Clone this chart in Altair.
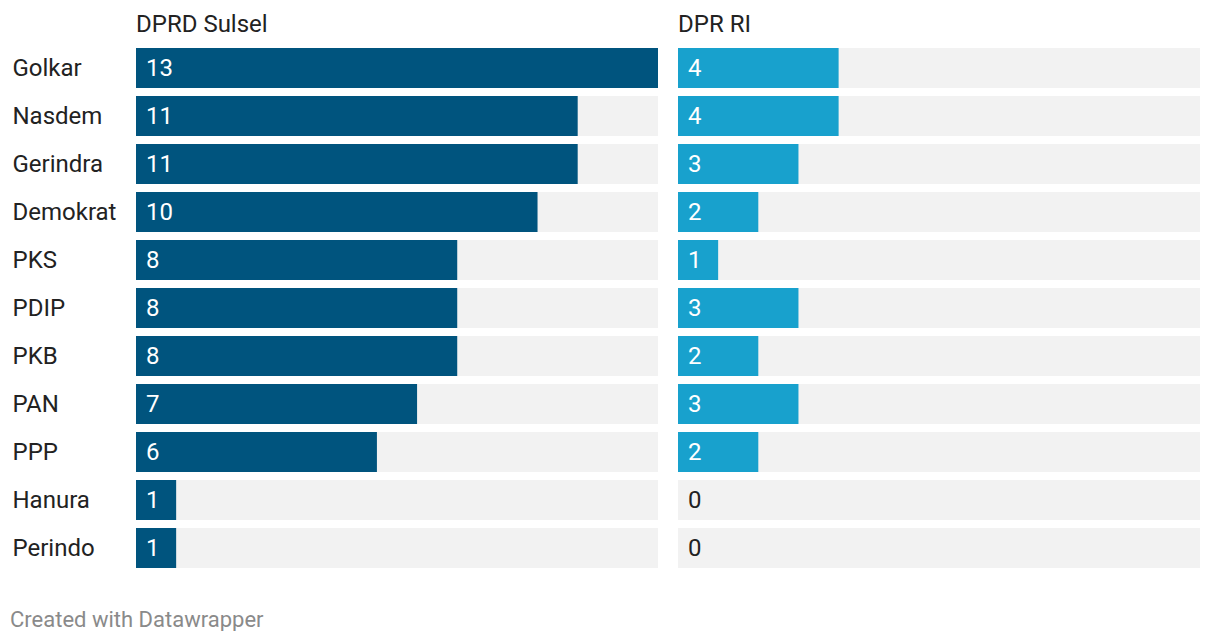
import altair as alt
import pandas as pd

parties = ["Golkar", "Nasdem", "Gerindra", "Demokrat", "PKS", "PDIP", "PKB", "PAN", "PPP", "Hanura", "Perindo"]
dprd_sulsel = [13, 11, 11, 10, 8, 8, 8, 7, 6, 1, 1]
dpr_ri = [4, 4, 3, 2, 1, 3, 2, 3, 2, 0, 0]
titles = ["DPRD Sulsel", "DPR RI"]
colors = ["#00547e", "#18a1cd"]
max_val = 13

FONT = "Roboto"
FS = 24

def panel(values, title, color, show_axis):
    df = pd.DataFrame({"party": parties, "value": values, "full": [max_val] * len(parties)})
    ysc = alt.Scale(paddingInner=1/6, paddingOuter=0)
    xsc = alt.Scale(domain=[0, max_val], nice=False, zero=True)
    if show_axis:
        yaxis = alt.Axis(title=None, domain=False, ticks=False, grid=False,
                         labelAlign="left", labelPadding=124, minExtent=128, maxExtent=128,
                         labelOffset=1,
                         labelFont=FONT, labelFontSize=FS, labelColor="#222222")
    else:
        yaxis = None
    base = alt.Chart(df)
    bg = base.mark_bar(color="#f2f2f2", cornerRadius=0).encode(
        y=alt.Y("party:N", sort=parties, scale=ysc, axis=yaxis),
        x=alt.X("full:Q", scale=xsc, axis=None),
    )
    bars = base.mark_bar(color=color).encode(
        y=alt.Y("party:N", sort=parties),
        x=alt.X("value:Q"),
    )
    labels = base.mark_text(align="left", baseline="middle", dx=10, dy=1, font=FONT, fontSize=FS).encode(
        y=alt.Y("party:N", sort=parties),
        x=alt.datum(0),
        text="value:Q",
        color=alt.condition("datum.value > 0", alt.value("#ffffff"), alt.value("#222222")),
    )
    return alt.layer(bg, bars, labels).properties(
        width=522, height=520,
        title=alt.TitleParams(title, anchor="start", frame="group", fontSize=FS, fontWeight="normal",
                              font=FONT, color="#222222", offset=11),
    )

left = panel(dprd_sulsel, titles[0], colors[0], True)
right = panel(dpr_ri, titles[1], colors[1], False)

chart = alt.hconcat(left, right, spacing=20).properties(
    padding={"top": 5, "left": 0, "right": 0, "bottom": 0},
    title=alt.TitleParams("Created with Datawrapper", orient="bottom", anchor="start",
                          fontSize=22, fontWeight="normal", font=FONT, color="#8a8a8a",
                          offset=42, dx=2),
).configure_view(stroke=None).configure_concat(spacing=20)

chart.save("out.html", embed_options={"renderer": "svg", "actions": False})
